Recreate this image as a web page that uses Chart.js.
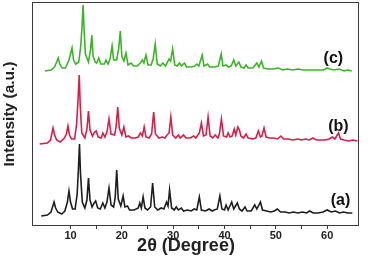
<!DOCTYPE html>
<html>
<head>
<meta charset="utf-8">
<script src="https://cdn.jsdelivr.net/npm/chart.js@4/dist/chart.umd.min.js"></script>
<style>
  html, body { margin: 0; padding: 0; background: #fff; }
  canvas { display: block; }
</style>
</head>
<body>
<canvas id="xrd" width="371" height="261"></canvas>
<script>
// 2theta / intensity pairs, offset per pattern as in the figure
const patternA = [[4.3,10],[5.5,11],[6.2,14],[6.5,19],[6.8,24],[7.1,18],[7.5,14],[8.3,12],[8.9,15],[9.4,24],[9.7,35],[10.0,24],[10.4,17],[10.9,17],[11.3,32],[11.55,58],[11.75,82],[11.95,52],[12.3,24],[12.8,18],[13.2,26],[13.5,48],[13.8,26],[14.2,19],[14.6,23],[14.9,25],[15.3,18],[15.8,17],[16.3,23],[16.7,18],[17.1,24],[17.5,38],[17.9,21],[18.4,19],[18.7,28],[19.0,56],[19.3,27],[19.8,20],[20.25,30],[20.6,19],[21.1,20],[21.5,16],[22.4,16],[23.2,18],[23.5,23],[23.8,18],[24.15,29],[24.5,18],[25.0,16],[25.6,19],[26.0,43],[26.4,19],[27.0,16],[27.7,18],[28.2,17],[28.7,24],[29.0,20],[29.3,36],[29.7,18],[30.2,16],[30.6,19],[31.0,16],[31.6,18],[32.0,15],[32.8,16],[33.5,15],[34.1,17],[34.6,16],[35.1,29],[35.5,16],[36.3,15],[37.0,17],[37.6,15],[38.0,16],[38.6,17],[39.1,30],[39.5,17],[40.0,16],[40.3,21],[40.7,16],[41.4,24],[41.8,17],[42.5,23],[42.9,17],[43.4,15],[44.0,19],[44.4,15],[45.2,15],[45.9,21],[46.3,17],[47.0,24],[47.4,16],[48.2,15],[49.0,14],[49.7,15],[50.3,17],[50.9,14],[51.8,14],[52.6,13],[53.4,14],[54.3,13],[55.2,14],[56.0,13],[56.6,15],[57.3,13],[58.2,13],[59.2,14],[60.0,16],[60.8,14],[61.6,15],[62.4,13],[63.2,14],[64.0,13],[64.9,13]];

const patternB = [[4.0,82],[5.5,83],[6.1,86],[6.35,92],[6.6,98],[6.9,91],[7.3,86],[8.0,84],[8.8,88],[9.2,92],[9.5,100],[9.8,91],[10.2,87],[10.8,87],[11.2,102],[11.45,125],[11.7,151],[11.9,120],[12.2,93],[12.8,88],[13.2,97],[13.5,115],[13.8,96],[14.3,90],[14.7,94],[15.0,95],[15.4,89],[16.0,88],[16.3,93],[16.7,89],[17.1,94],[17.5,107],[17.9,92],[18.6,91],[18.9,100],[19.2,119],[19.5,98],[20.0,91],[20.4,99],[20.8,89],[21.3,90],[21.8,88],[22.6,88],[23.2,89],[23.6,93],[24.0,90],[24.35,99],[24.7,89],[25.3,88],[25.8,92],[26.2,114],[26.55,92],[27.2,88],[27.9,89],[28.4,88],[28.8,91],[29.2,93],[29.55,109],[29.9,91],[30.5,88],[31.0,91],[31.4,88],[32.0,91],[32.5,88],[33.3,88],[34.0,90],[34.4,88],[35.1,93],[35.5,103],[35.9,90],[36.4,91],[36.8,109],[37.2,90],[37.7,88],[38.2,91],[38.7,88],[39.0,92],[39.4,107],[39.8,90],[40.4,89],[40.7,93],[41.1,89],[41.5,90],[41.9,97],[42.2,91],[42.6,99],[42.9,96],[43.2,90],[43.7,88],[44.2,92],[44.6,88],[45.5,87],[46.1,88],[46.6,95],[47.0,89],[47.3,90],[47.7,98],[48.1,89],[48.8,88],[49.5,88],[50.3,87],[51.0,90],[51.5,87],[52.4,87],[53.3,86],[54.2,87],[55.0,86],[55.8,87],[56.5,86],[57.2,88],[57.9,86],[58.8,86],[59.6,86],[60.4,87],[61.0,89],[61.5,87],[62.2,93],[62.6,87],[63.3,86],[64.2,85],[65.0,86],[65.9,85]];

const patternC = [[5.0,155],[6.2,156],[6.9,159],[7.3,164],[7.6,168],[7.9,162],[8.4,158],[9.0,158],[9.7,166],[10.3,178],[10.6,166],[11.0,162],[11.6,164],[12.0,180],[12.25,200],[12.45,221],[12.65,196],[12.9,172],[13.5,164],[13.9,176],[14.15,191],[14.4,170],[14.8,164],[15.1,163],[15.5,168],[15.9,162],[16.6,162],[16.9,166],[17.3,162],[17.7,167],[18.1,180],[18.4,166],[19.0,166],[19.4,178],[19.7,195],[20.0,170],[20.4,165],[20.8,173],[21.2,161],[21.8,163],[22.3,160],[23.0,160],[23.6,163],[24.0,166],[24.3,163],[24.7,171],[25.1,161],[25.7,161],[26.1,167],[26.5,182],[26.9,162],[27.5,160],[28.0,163],[28.5,160],[29.2,167],[29.5,165],[29.9,177],[30.3,161],[30.8,160],[31.2,163],[31.6,160],[32.2,163],[32.6,159],[33.5,159],[34.2,160],[34.6,162],[35.0,160],[35.65,171],[36.0,160],[36.7,162],[37.1,159],[38.0,159],[38.8,160],[39.35,172],[39.7,160],[40.3,161],[40.8,159],[41.3,160],[41.8,166],[42.2,160],[42.8,164],[43.2,159],[43.8,158],[44.2,161],[44.6,158],[45.5,158],[46.3,163],[46.7,159],[47.2,165],[47.6,158],[48.5,157],[49.5,157],[50.5,158],[51.3,156],[52.3,157],[53.3,156],[54.3,157],[55.3,156],[56.3,156],[57.3,156],[58.3,156],[59.3,156],[60.0,158],[60.5,157],[61.3,156],[62.3,157],[63.3,155],[64.0,156],[64.8,155]];

const seriesNames = ['(a)', '(b)', '(c)'];
const seriesColors = ['#1e1e1e', '#d81f48', '#3ab526'];
// where each name sits, in axis units
const nameAt = [[62.6, 25], [62.2, 99], [61.2, 167]];
const xTitle = '2θ (Degree)';
const xTitleAt = 32.5;

const FONT = "'Liberation Sans', Arial, sans-serif";

const toXY = arr => arr.map(([x, y]) => ({ x, y }));

// box round the plot area, the x title and the (a)/(b)/(c) names
const framePlugin = {
  id: 'frame',
  afterDatasetsDraw(chart) {
    const { ctx, chartArea: a, scales: { x, y } } = chart;
    ctx.save();
    ctx.strokeStyle = '#3a3a3a';
    ctx.lineWidth = 1;
    ctx.strokeRect(a.left + 0.5, a.top + 0.5, a.right - a.left - 1, a.bottom - a.top - 1);
    ctx.fillStyle = '#111';
    ctx.textAlign = 'center';
    ctx.textBaseline = 'middle';
    ctx.font = 'bold 16px ' + FONT;
    seriesNames.forEach((n, i) => {
      ctx.fillText(n, x.getPixelForValue(nameAt[i][0]), y.getPixelForValue(nameAt[i][1]));
    });
    ctx.fillStyle = '#222';
    ctx.font = 'bold 18px ' + FONT;
    ctx.fillText(xTitle, x.getPixelForValue(xTitleAt), x.bottom - 15);
    ctx.restore();
  }
};

new Chart(document.getElementById('xrd'), {
  type: 'line',
  data: {
    datasets: [patternA, patternB, patternC].map((p, i) => ({
      label: seriesNames[i],
      data: toXY(p),
      borderColor: seriesColors[i],
      borderWidth: 1.6,
      pointRadius: 0,
      tension: 0,
      fill: false
    }))
  },
  options: {
    responsive: false,
    devicePixelRatio: 1,
    animation: false,
    layout: { padding: { top: 2, right: 12, left: 0, bottom: 0 } },
    plugins: { legend: { display: false }, tooltip: { enabled: false } },
    scales: {
      x: {
        type: 'linear',
        min: 2.5,
        max: 66.2,
        afterFit: s => { s.height = 35; },
        afterBuildTicks: s => { s.ticks = s.ticks.filter(t => t.value % 5 === 0); },
        ticks: {
          stepSize: 5,
          autoSkip: false,
          maxRotation: 0,
          padding: 0,
          color: '#222',
          font: { family: FONT, size: 11, weight: 'bold' },
          callback: v => (v % 10 === 0 ? v : '')
        },
        grid: { drawOnChartArea: false, drawTicks: true, tickLength: 3, color: '#3a3a3a' },
        border: { display: false }
      },
      y: {
        min: 0,
        max: 224,
        afterFit: s => { s.width = 32; },
        ticks: { display: false },
        grid: { display: false },
        border: { display: false },
        title: {
          display: true,
          text: 'Intensity (a.u.)',
          color: '#222',
          font: { family: FONT, size: 15.5, weight: 'bold', lineHeight: 1.2 },
          padding: { top: 0, bottom: 0 }
        }
      }
    }
  },
  plugins: [framePlugin]
});
</script>
</body>
</html>
